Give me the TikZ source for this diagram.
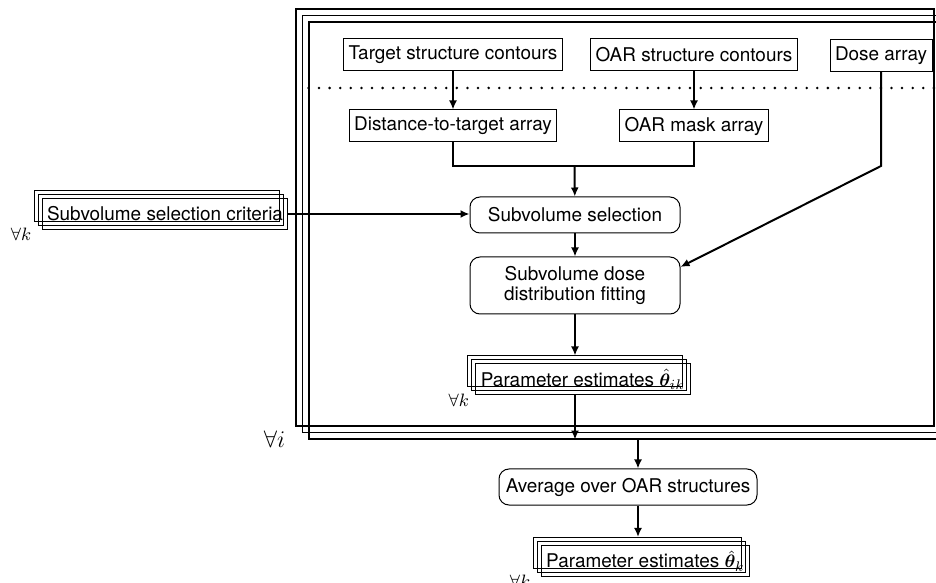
\documentclass[tikz,border=0pt]{standalone}
\usepackage{fontspec}
\setmainfont{TeX Gyre Heros}
\usepackage{bm}
\usetikzlibrary{shapes,arrows.meta,positioning,shadows}
\tikzstyle{block} = [rectangle, draw, line width=0.5bp, inner xsep=2.5bp, inner ysep=0pt, minimum height=16bp]
\tikzstyle{roundbox} = [rectangle, draw, rounded corners=5bp, line width=0.5bp, align=center, minimum width=105bp, minimum height=18bp]
\tikzstyle{stackbox} = [block, minimum height=15.5bp, general shadow={shadow xshift=-4bp, shadow yshift=4bp, draw, line width=0.5bp}, general shadow={shadow xshift=-2bp, shadow yshift=2bp, draw, line width=0.5bp}]
\tikzstyle{bigframe} = [rectangle, draw, line width=0.55bp, inner sep=0pt, minimum width=319bp, minimum height=208.5bp, general shadow={shadow xshift=-6.5bp, shadow yshift=6.5bp, draw, line width=0.55bp}, general shadow={shadow xshift=-3.25bp, shadow yshift=3.25bp, draw, line width=0.55bp}]
\tikzstyle{arrow} = [draw, line width=1bp, -{Latex[length=4.5bp,width=4bp]}]
\tikzstyle{line} = [draw, line width=1bp, -]
\tikzstyle{dotline} = [draw, line width=1.4bp, line cap=round, dash pattern=on 0pt off 5.3bp]
\tikzstyle{forall} = [anchor=north east, inner sep=0pt]

\begin{document}
\begin{tikzpicture}[x=0.5bp, y=-0.5bp, font=\fontsize{9.5}{11}\selectfont]
  \useasboundingbox (0,0) rectangle (936,583);

  \node[bigframe] (frame) at (628,230.5) {};
  \node[block] (target) at (453,55) {Target structure contours};
  \node[block] (oarc) at (694,55) {OAR structure contours};
  \node[block] (dose) at (881,55.5) {Dose array};
  \node[block, below of=target, node distance=35.5bp] (dist) {Distance-to-target array};
  \node[block, below of=oarc, node distance=35.5bp] (mask) {OAR mask array};
  \coordinate (dotrow) at (0,88);
  \coordinate (join) at (574.5,166);
  \node[roundbox] (sel) at (575,215) {Subvolume selection};
  \node[roundbox, minimum height=28.5bp, font=\fontsize{9.5}{10.5}\selectfont] (fit) at (575,285.5) {Subvolume dose\\distribution fitting};
  \node[stackbox] (criteria) at (165,214) {Subvolume selection criteria};
  \node[stackbox] (paramik) at (583,379.5) {Parameter estimates $\hat{\bm{\theta}}_{ik}$};
  \node[roundbox, minimum width=129bp] (avg) at (628,487) {Average over OAR structures};
  \node[stackbox] (paramk) at (645.5,561) {Parameter estimates $\hat{\bm{\theta}}_{k}$};

  \node[forall] (forallcrit) at ([xshift=-5bp,yshift=1bp]criteria.south west) {$\forall k$};
  \node[forall] (forallik) at ([xshift=-3bp,yshift=1bp]paramik.south west) {$\forall k$};
  \node[forall] (forallk) at ([xshift=-5bp,yshift=1bp]paramk.south west) {$\forall k$};
  \node[forall, anchor=center, font=\large] (foralli) at ([xshift=-17bp]frame.south west) {$\forall i$};

  \path[dotline] (frame.west |- dotrow) -- (frame.east |- dotrow);
  \path[arrow] (target) -- (dist);
  \path[arrow] (oarc) -- (mask);
  \path[line] (dist) |- (join) -| (mask);
  \path[arrow] (join) -- (sel);
  \path[arrow] (dose) -- (dose |- join) -- (fit.10);
  \path[arrow] (criteria) -- (criteria -| sel.west);
  \path[arrow] (sel) -- (fit);

  \coordinate (paramiktop) at ([yshift=4bp]paramik.north);
  \path[arrow] (fit) -- (fit |- paramiktop);
  \path[arrow] (fit |- paramik.south) -- (fit |- frame.south);

  \coordinate (avgin) at ([xshift=5bp]avg.north);
  \coordinate (avgout) at ([xshift=5bp]avg.south);
  \coordinate (paramktop) at ([yshift=4bp]paramk.north);
  \path[arrow] (avgin |- frame.south) -- (avgin);
  \path[arrow] (avgout) -- (avgout |- paramktop);

\end{tikzpicture}
\end{document}
